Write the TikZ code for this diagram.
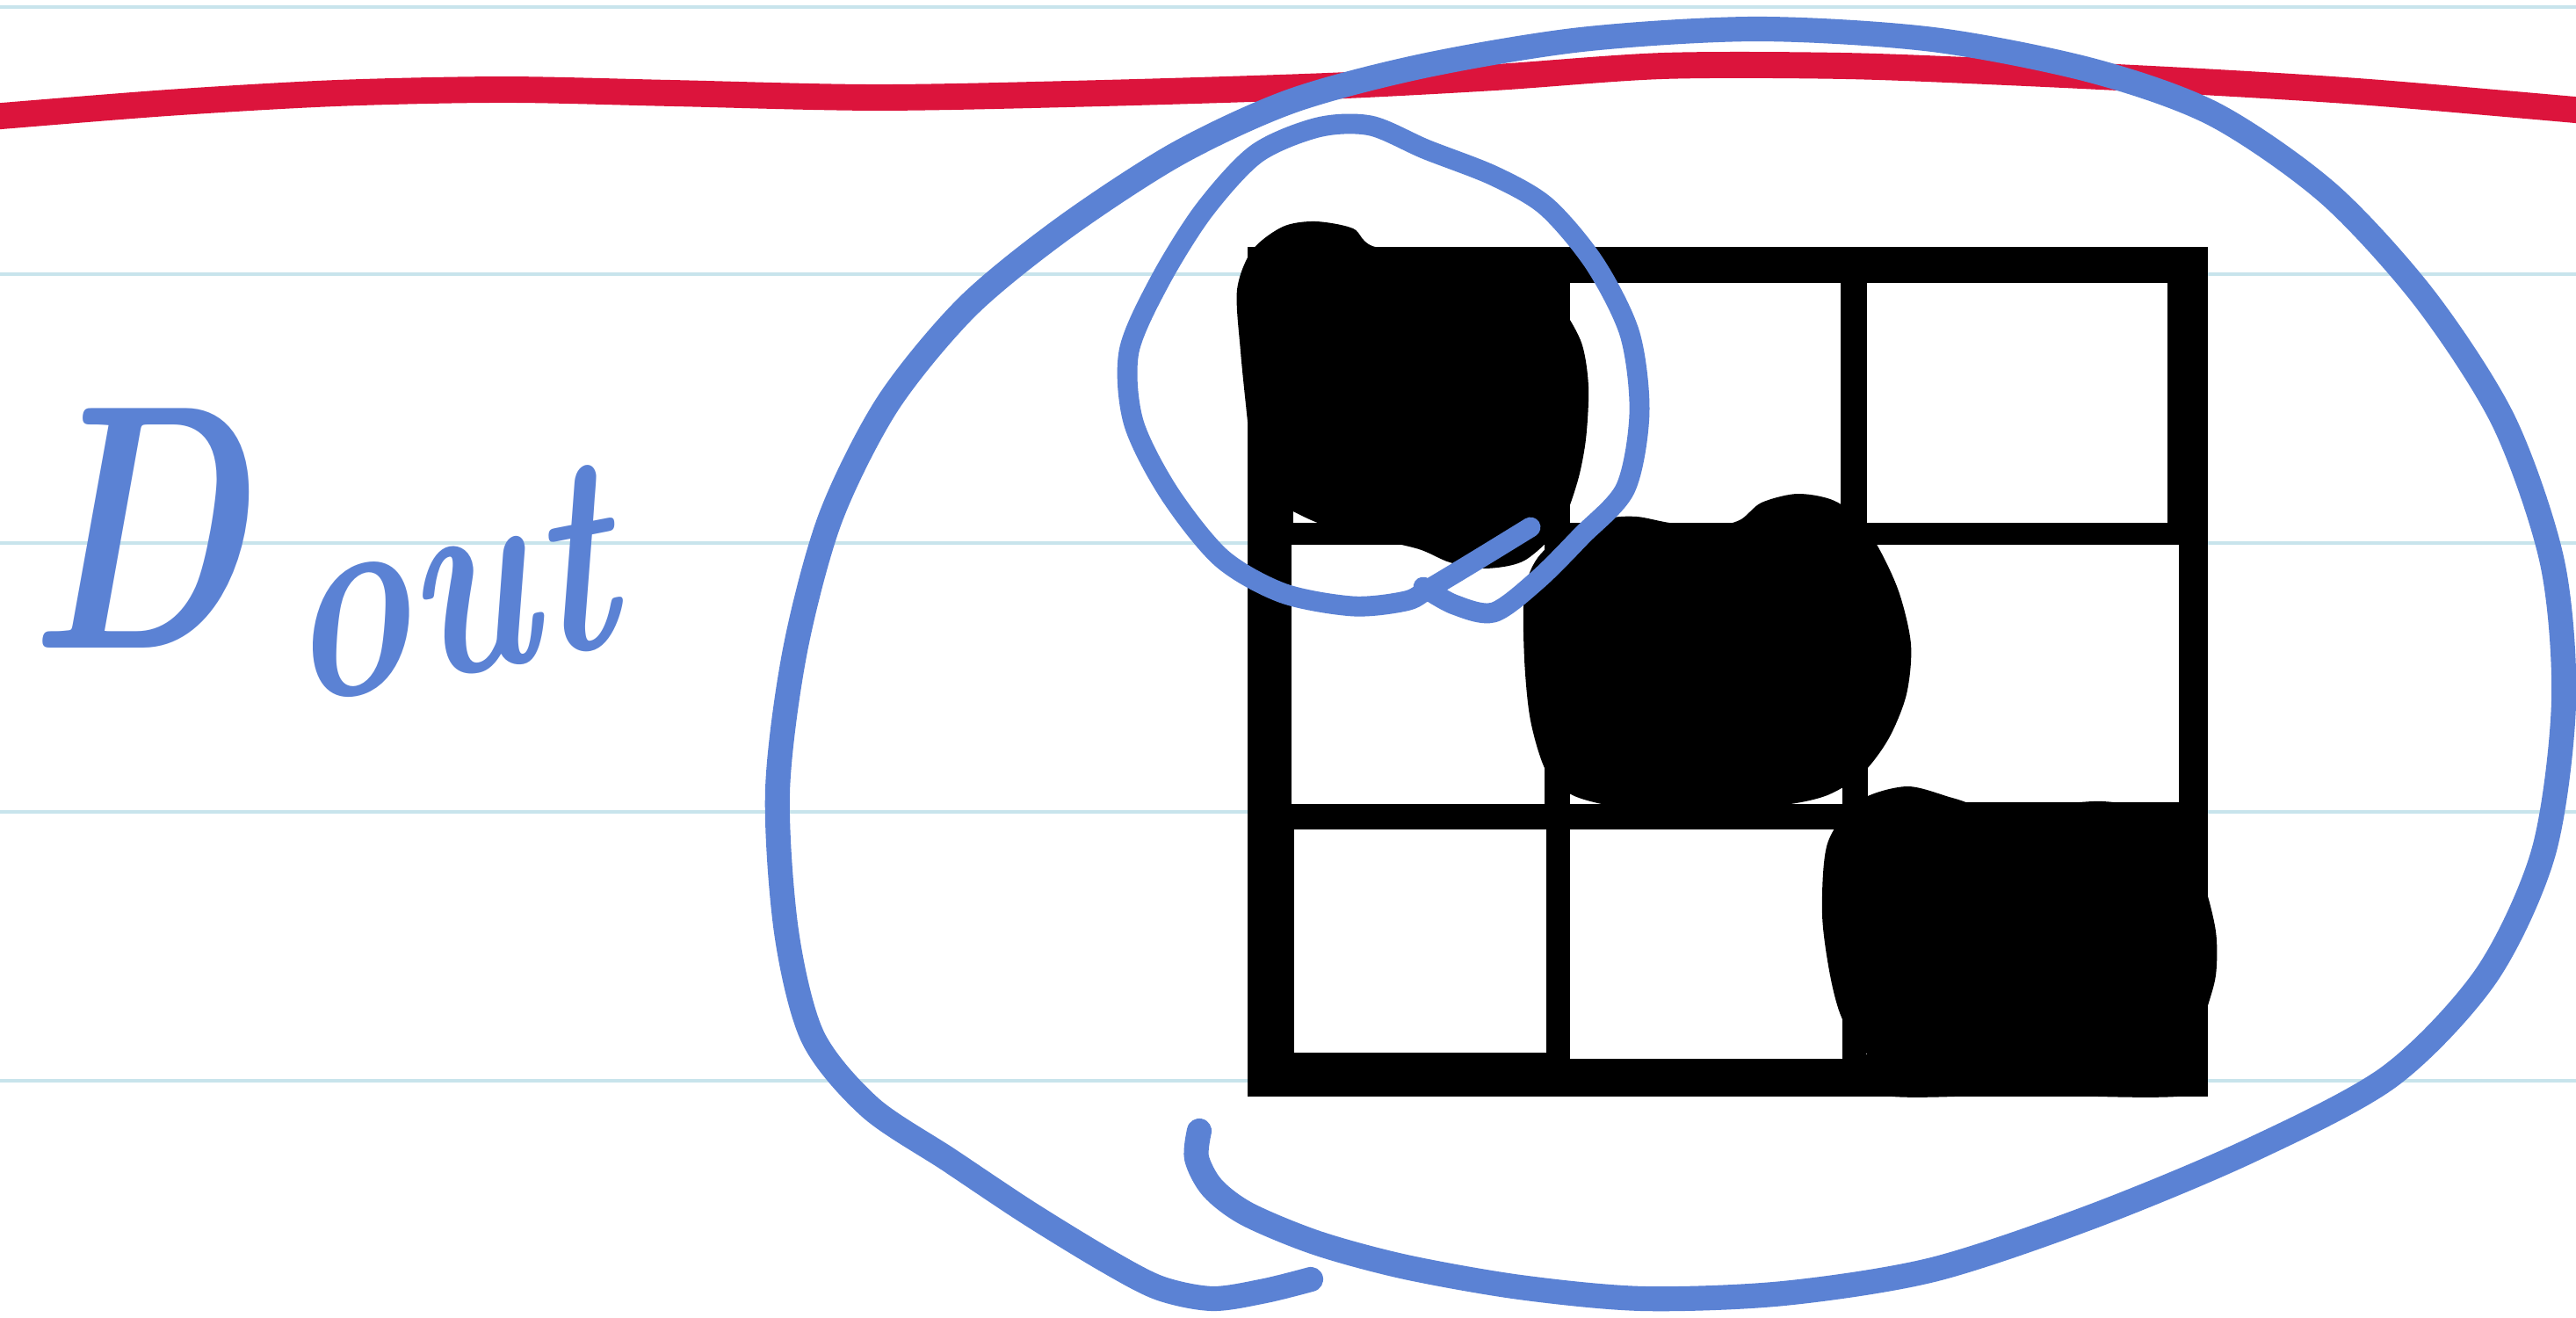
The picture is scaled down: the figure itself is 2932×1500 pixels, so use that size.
\documentclass[tikz,border=0pt]{standalone}
\usepackage{tikz}
\definecolor{penblue}{RGB}{91,130,212}
\definecolor{marginred}{RGB}{220,20,60}
\definecolor{ruleblue}{RGB}{200,228,236}

\begin{document}
\begin{tikzpicture}[x=0.01cm,y=-0.01cm,
  ruled/.style={ruleblue,line width=1pt},
  margin/.style={marginred,line width=8.5pt,line cap=round},
  pen/.style={penblue,line width=8pt,line cap=round,line join=round},
  thinpen/.style={penblue,line width=6.5pt,line cap=round,line join=round},
  handtext/.style={penblue,font=\bfseries\itshape,inner sep=0pt,xscale=0.72}]
  \useasboundingbox (0,0) rectangle (2932,1500);
  \fill[white] (0,0) rectangle (2932,1500);
  % Ruled paper
  \foreach \y in {8,312,618,924,1230}
    \draw[ruled] (0,\y) -- (2932,\y);
  % Margin line
  \draw[margin] plot[smooth] coordinates {(-10,133) (191,117) (383,106) (574,102)
    (765,106) (1000,111) (1255,106) (1510,98) (1702,88) (1893,75) (2098,75)
    (2283,82) (2506,93) (2697,105) (2942,126)};
  % Label
  \node[handtext,anchor=base west] (dout) at (30,737)
    {\fontsize{113pt}{113pt}\selectfont D\kern14pt%
     \raisebox{-19pt}{\rotatebox{8}{\fontsize{92pt}{92pt}\selectfont out}}};
  % Matrix grid
  \fill[black] (1420,281) rectangle (2513,1248);
  \foreach \xa/\ya/\xb/\yb in {1472/322/1760/595, 1787/322/2095/595, 2125/322/2467/595,
      1470/620/1758/915, 1787/620/2097/915, 2126/620/2480/913,
      1473/944/1760/1198, 1787/944/2097/1205, 2124/943/2467/1200}
    \fill[white] (\xa,\ya) rectangle (\xb,\yb);
  % Scribbled entries
  \fill[black] plot[smooth cycle] coordinates {(1408,330) (1425,285) (1460,258)
    (1497,252) (1540,260) (1570,282) (1700,284) (1745,305) (1775,345) (1800,390)
    (1808,440) (1805,500) (1795,550) (1775,600) (1735,638) (1690,647) (1650,640)
    (1615,625) (1560,612) (1505,597) (1468,580) (1428,558) (1420,480) (1412,400)};
  \fill[black] plot[smooth cycle] coordinates {(1735,675) (1750,635) (1785,605)
    (1830,590) (1863,588) (1900,595) (1945,600) (1980,592) (2005,572) (2047,562)
    (2092,572) (2130,610) (2160,670) (2175,733) (2170,790) (2150,840) (2120,880)
    (2080,905) (2030,916) (1960,918) (1900,920) (1840,918) (1790,905) (1760,878)
    (1742,820) (1735,750)};
  \fill[black] plot[smooth cycle] coordinates {(2080,960) (2115,912) (2170,895)
    (2222,908) (2260,918) (2330,916) (2393,912) (2442,922) (2482,960) (2507,1002)
    (2522,1060) (2522,1110) (2510,1155) (2500,1200) (2495,1246) (2300,1246)
    (2140,1246) (2125,1200) (2097,1160) (2083,1110) (2074,1040)};
  % Inner loop round the first entry
  \draw[thinpen] plot[smooth] coordinates {(1620,668) (1655,688) (1700,697)
    (1750,660) (1800,610) (1850,556) (1866,470) (1855,380) (1815,300) (1760,235)
    (1700,200) (1623,170) (1560,143) (1500,145) (1430,175) (1370,240) (1320,320)
    (1285,400) (1290,480) (1330,560) (1390,635) (1460,675) (1540,690) (1600,684)
    (1625,671) (1680,638) (1742,600)};
  % Outer loop round the matrix
  \draw[pen] plot[smooth] coordinates {(1365,1287) (1362,1318) (1380,1352)
    (1420,1382) (1500,1415) (1600,1442) (1730,1465) (1870,1478) (2030,1472)
    (2200,1445) (2380,1385) (2560,1310) (2720,1225) (2830,1110) (2895,970)
    (2918,800) (2905,640) (2850,480) (2760,340) (2650,220) (2520,130) (2380,80)
    (2200,45) (2000,33) (1800,45) (1620,75) (1470,115) (1340,175) (1210,260)
    (1100,350) (1010,460) (945,590) (905,740) (885,900) (895,1060) (925,1180)
    (990,1260) (1080,1320) (1170,1380) (1260,1435) (1320,1466) (1380,1478)
    (1440,1469) (1492,1456)};
\end{tikzpicture}
\end{document}
